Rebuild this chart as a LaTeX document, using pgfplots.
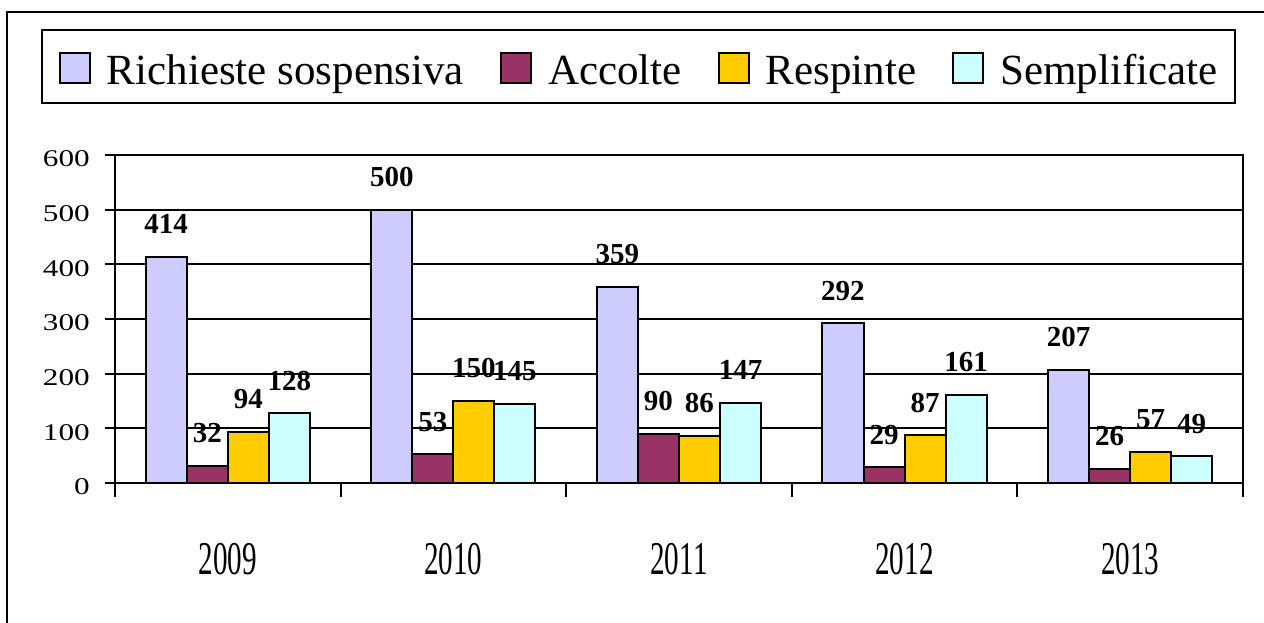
\documentclass[border=0pt]{standalone}
\usepackage{fontspec}
\setmainfont{Liberation Serif}
\newfontfamily\tickfont[FakeStretch=1.3]{Liberation Serif}
\newfontfamily\yearfont[FakeStretch=0.62]{Liberation Serif}
\usepackage{pgfplots}
\pgfplotsset{compat=1.18}

\definecolor{cRich}{HTML}{CCCCFF}
\definecolor{cAcc}{HTML}{993366}
\definecolor{cResp}{HTML}{FFCC00}
\definecolor{cSemp}{HTML}{CCFFFF}

\pgfplotsset{
  sq/.style={legend image code/.code={\draw[##1,draw=black,line width=2pt] (0pt,-16.5pt) rectangle (30pt,13.5pt);}},
}

\begin{document}
\begin{tikzpicture}
\useasboundingbox (-115pt,-140pt) rectangle (1149pt,483pt);
\begin{axis}[
  scale only axis,
  width=1128pt, height=328pt,
  xmin=-0.5, xmax=4.5,
  ymin=0, ymax=600,
  ybar=0pt, bar width=0.182,
  /pgf/number format/assume math mode=true,
  ytick={0,100,...,600},
  xtick={0,1,2,3,4},
  xticklabels={2009,2010,2011,2012,2013},
  minor xtick={-0.5,0.5,1.5,2.5,3.5,4.5},
  tick pos=left,
  tick align=outside,
  major tick length=10pt,
  minor tick length=14pt,
  xtick style={draw=none},
  minor x tick style={draw=black,line width=2pt},
  ytick style={black,line width=2pt},
  axis line style={line width=2pt},
  ymajorgrids,
  grid style={black,line width=2pt},
  yticklabel style={font=\tickfont\fontsize{24pt}{24pt}\selectfont, inner sep=0pt, anchor=east, xshift=-15pt, yshift=-4pt},
  xticklabel style={font=\yearfont\fontsize{47pt}{47pt}\selectfont, inner sep=0pt, anchor=base, yshift=-82pt},
  nodes near coords,
  every node near coord/.append style={font=\fontsize{29pt}{29pt}\selectfont\bfseries, anchor=base, inner sep=0pt, yshift=23pt},
  legend columns=-1,
  legend style={at={(axis description cs:0,1)}, anchor=north west, xshift=-74pt, yshift=126pt,
    draw=black, line width=2pt, inner xsep=17pt, inner ysep=0pt,
    font=\fontsize{43pt}{43pt}\selectfont,
    nodes={inner xsep=0pt, inner ysep=0pt, text height=55pt, text depth=18pt},
    column sep=16pt,
    /tikz/every even column/.append style={column sep=36pt}},
]
\addplot[fill=cRich, draw=black, line width=2pt, sq] coordinates {(0,414) (1,500) (2,359) (3,292) (4,207)};
\addplot[fill=cAcc, draw=black, line width=2pt, sq] coordinates {(0,32) (1,53) (2,90) (3,29) (4,26)};
\addplot[fill=cResp, draw=black, line width=2pt, sq] coordinates {(0,94) (1,150) (2,86) (3,87) (4,57)};
\addplot[fill=cSemp, draw=black, line width=2pt, sq] coordinates {(0,128) (1,145) (2,147) (3,161) (4,49)};
\legend{Richieste sospensiva, Accolte, Respinte, Semplificate}
\end{axis}
\draw[line width=2pt] (-108pt,-140pt) -- (-108pt,471pt) -- (1149pt,471pt);
\end{tikzpicture}
\end{document}
